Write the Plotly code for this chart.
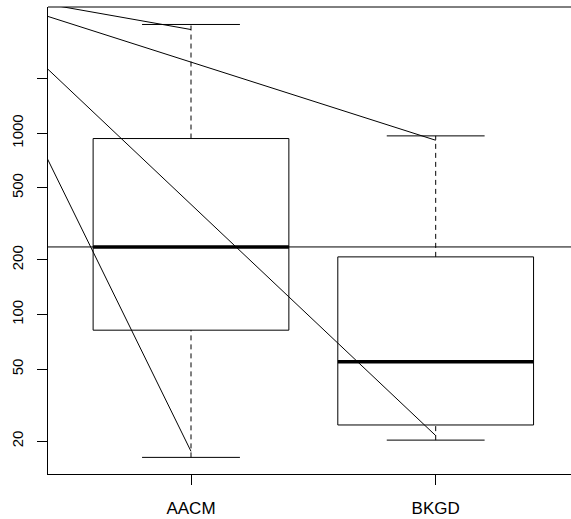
import math
import plotly.graph_objects as go

# ---- data ----
categories = ["AACM", "BKGD"]
positions = [1, 2]
lower_whisker = [16.3, 20.3]
q1 = [82, 24.6]
median = [236, 55]
q3 = [935, 208]
upper_whisker = [3981, 967]

hline_value = 236

# extra straight segments (data coordinates: x position, y value)
seg_x0 = [0.40, 0.40, 0.40, 0.40]
seg_y0 = [5194, 4476, 2358, 786]
seg_x1 = [1, 2, 2, 1]
seg_y1 = [3733, 915, 21.5, 17.6]

y_tickvals = [20, 50, 100, 200, 500, 1000, 2000]
y_ticktext = ["20", "50", "100", "200", "500", "1000", ""]

box_half = 0.4
cap_half = 0.2
x_range = [0.4156, 2.553]
y_range = [math.log10(13.2), math.log10(4970)]

FONT = "Liberation Sans, Arial, Helvetica, sans-serif"
BLACK = "#000000"

fig = go.Figure()

def add_line(xs, ys, width=1, dash=None):
    fig.add_trace(go.Scatter(
        x=xs, y=ys, mode="lines",
        line=dict(color=BLACK, width=width, dash=dash),
        hoverinfo="skip", showlegend=False))

for c, lo, a, m, b, hi in zip(positions, lower_whisker, q1, median, q3, upper_whisker):
    # whiskers (dashed)
    add_line([c, c], [b, hi], dash="5px,4px")
    add_line([c, c], [lo, a], dash="5px,4px")
    # caps
    add_line([c - cap_half, c + cap_half], [hi, hi])
    add_line([c - cap_half, c + cap_half], [lo, lo])
    # box
    add_line([c - box_half, c + box_half, c + box_half, c - box_half, c - box_half],
             [a, a, b, b, a])
    # median
    add_line([c - box_half, c + box_half], [m, m], width=3.5)

# horizontal reference line across the whole plot
add_line([x_range[0] - 1, x_range[1] + 1], [hline_value, hline_value])

# slanted segments
for x0, y0, x1, y1 in zip(seg_x0, seg_y0, seg_x1, seg_y1):
    add_line([x0, x1], [y0, y1])

fig.update_layout(
    width=571, height=519,
    margin=dict(l=48, r=0, t=7, b=45),
    paper_bgcolor="white", plot_bgcolor="white",
    font=dict(family=FONT, color=BLACK),
    showlegend=False,
    hovermode=False,
    xaxis=dict(
        range=x_range, tickvals=positions, ticktext=categories,
        ticks="outside", ticklen=10, tickcolor=BLACK, tickwidth=1,
        showline=True, linecolor=BLACK, linewidth=1,
        showgrid=False, zeroline=False, ticklabelstandoff=9,
        tickfont=dict(size=17, family=FONT, color=BLACK),
    ),
    yaxis=dict(
        type="log", range=y_range,
        tickvals=y_tickvals, ticktext=y_ticktext, tickangle=-90,
        ticks="outside", ticklen=10, tickcolor=BLACK, tickwidth=1,
        showline=True, linecolor=BLACK, linewidth=1,
        showgrid=False, zeroline=False, ticklabelstandoff=8,
        tickfont=dict(size=15, family=FONT, color=BLACK),
    ),
    shapes=[dict(type="line", xref="paper", yref="paper", x0=0, x1=1.02, y0=1, y1=1,
                 line=dict(color=BLACK, width=1))],
)

fig.write_html("out.html",
               config={"displayModeBar": False, "staticPlot": True},
               post_script="document.body.style.margin='0';document.body.style.overflow='hidden';")
